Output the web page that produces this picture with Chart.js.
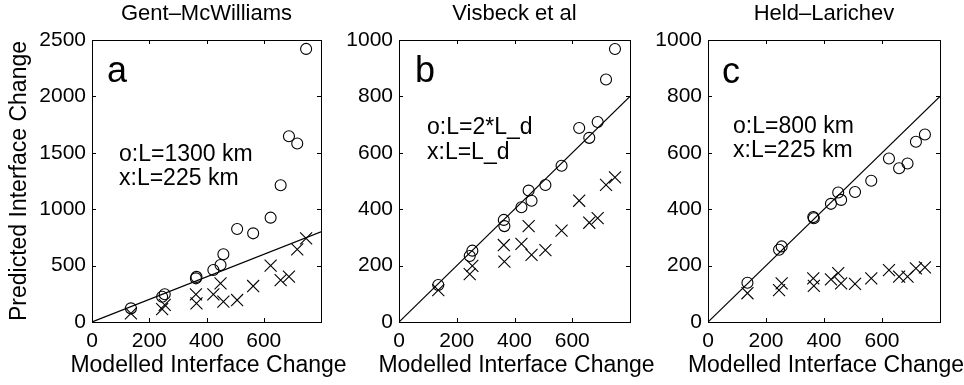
<!DOCTYPE html>
<html><head><meta charset="utf-8">
<script src="https://cdn.jsdelivr.net/npm/chart.js@4.4.1/dist/chart.umd.min.js"></script>
<style>
html,body{margin:0;padding:0;background:#fff;overflow:hidden;width:964px;height:385px}
.p{position:absolute;top:0;height:385px}
</style></head><body>
<div class="p" style="left:0;width:362px"><canvas id="c0"></canvas></div>
<div class="p" style="left:335px;width:327px"><canvas id="c1"></canvas></div>
<div class="p" style="left:640px;width:324px"><canvas id="c2"></canvas></div>
<script>
// ---- data ----
const modelled = [136, 245, 254, 363, 365, 424, 449, 459, 507, 563, 624, 659, 688, 717, 748];
const gmCircles = [121, 224, 246, 387, 400, 461, 505, 600, 824, 786, 925, 1212, 1647, 1582, 2421];
const gmCrosses = [77, 115, 151, 245, 166, 245, 343, 180, 195, 319, 499, 372, 402, 644, 742];
const vbCircles = [131, 234, 253, 362, 340, 407, 466, 430, 486, 554, 688, 653, 709, 860, 968];
const vbCrosses = [113, 170, 199, 273, 214, 277, 340, 238, 255, 324, 430, 352, 368, 486, 513];
const hlCircles = [139, 256, 268, 372, 368, 419, 459, 433, 461, 501, 580, 545, 562, 639, 665];
const hlCrosses = [102, 113, 137, 155, 128, 151, 173, 137, 135, 155, 184, 161, 161, 190, 194];
const oneToOne = [0, 800];
const xTicks = [0, 200, 400, 600, 800];
const xTickLabels = ['0', '200', '400', '600', ''];
const panelTitles = ['Gent\u2013McWilliams', 'Visbeck et al', 'Held\u2013Larichev'];
const panelLetters = ['a', 'b', 'c'];
const legendLines = [['o:L=1300 km', 'x:L=225 km'], ['o:L=2*L_d', 'x:L=L_d'], ['o:L=800 km', 'x:L=225 km']];
const yMax = [2500, 1000, 1000];
const yStep = [500, 200, 200];
const xTitle = 'Modelled Interface Change';
const yTitle = 'Predicted Interface Change';

// ---- layout (pixels) ----
const FONT = "'Liberation Sans', Arial, Helvetica, sans-serif";
const layoutCfg = [
  {yWidth: 92, padRight: 41, letter: [15, 42], text: [27, 121], step: 24},
  {yWidth: 64, padRight: 32, letter: [16, 42], text: [28, 94], step: 25},
  {yWidth: 68, padRight: 24, letter: [14, 43], text: [25, 93], step: 24}
];

const toPts = (ys) => ys.map((y, i) => ({x: modelled[i], y}));
const series = [[gmCircles, gmCrosses], [vbCircles, vbCrosses], [hlCircles, hlCrosses]];

const framePlugin = {
  id: 'frame',
  afterDatasetsDraw(chart) {
    const {ctx, chartArea: a, scales} = chart;
    ctx.save();
    ctx.strokeStyle = '#000';
    ctx.lineWidth = 1;
    ctx.strokeRect(Math.round(a.left) + 0.5, Math.round(a.top) + 0.5, Math.round(a.right - a.left), Math.round(a.bottom - a.top));
    const tl = 4;
    ctx.beginPath();
    xTicks.forEach(v => {
      const px = Math.round(scales.x.getPixelForValue(v)) + 0.5;
      ctx.moveTo(px, a.bottom); ctx.lineTo(px, a.bottom - tl);
      ctx.moveTo(px, a.top); ctx.lineTo(px, a.top + tl);
    });
    scales.y.ticks.forEach(t => {
      const py = Math.round(scales.y.getPixelForValue(t.value)) + 0.5;
      ctx.moveTo(a.left, py); ctx.lineTo(a.left + tl, py);
      ctx.moveTo(a.right, py); ctx.lineTo(a.right - tl, py);
    });
    ctx.stroke();
    ctx.restore();
  },
  afterDraw(chart) {
    const o = chart.options.plugins.frame;
    const {ctx, chartArea: a} = chart;
    ctx.save();
    ctx.fillStyle = '#000';
    ctx.textAlign = 'left';
    ctx.textBaseline = 'alphabetic';
    ctx.font = '36px ' + FONT;
    ctx.fillText(o.letter, a.left + o.letterPos[0], a.top + o.letterPos[1]);
    ctx.font = '23px ' + FONT;
    o.lines.forEach((s, i) => ctx.fillText(s, a.left + o.textPos[0], a.top + o.textPos[1] + i * o.step));
    // x-axis title (drawn without width squeezing)
    ctx.textAlign = 'center';
    ctx.textBaseline = 'middle';
    ctx.font = '23px ' + FONT;
    ctx.fillText(o.xTitle, (a.left + a.right) / 2 + 2, a.bottom + 44);
    ctx.restore();
  }
};

[0, 1, 2].forEach(k => {
  const L = layoutCfg[k];
  new Chart(document.getElementById('c' + k), {
    type: 'scatter',
    data: {
      datasets: [
        {type: 'line', data: oneToOne.map(v => ({x: v, y: v})), borderColor: '#000', borderWidth: 1.2, pointRadius: 0, fill: false},
        {data: toPts(series[k][0]), pointStyle: 'circle', pointRadius: 5.5, borderColor: '#000', backgroundColor: 'rgba(0,0,0,0)', borderWidth: 1.1},
        {data: toPts(series[k][1]), pointStyle: 'crossRot', pointRadius: 8.5, borderColor: '#000', backgroundColor: 'rgba(0,0,0,0)', borderWidth: 1.1}
      ]
    },
    options: {
      responsive: true, maintainAspectRatio: false, animation: false, devicePixelRatio: 1,
      layout: {padding: {left: 0, right: L.padRight, top: 0, bottom: 0}},
      plugins: {
        legend: {display: false}, tooltip: {enabled: false},
        frame: {letter: panelLetters[k], letterPos: L.letter, lines: legendLines[k], textPos: L.text, step: L.step, xTitle: xTitle}
      },
      scales: {
        x: {
          type: 'linear', position: 'bottom', min: 0, max: 800,
          afterBuildTicks: s => { s.ticks = xTicks.map(v => ({value: v})); },
          ticks: {callback: (v) => xTickLabels[xTicks.indexOf(v)], font: {family: FONT, size: 21}, color: '#000', padding: 7, maxRotation: 0, autoSkip: false},
          grid: {display: false, drawTicks: false}, border: {display: false},
          title: {display: false},
          afterFit: s => { s.height = 63; }
        },
        xt: {
          type: 'linear', position: 'top', min: 0, max: 800,
          ticks: {display: false}, grid: {display: false, drawTicks: false}, border: {display: false},
          title: {display: true, text: panelTitles[k], font: {family: FONT, size: 22}, color: '#000', padding: {top: 1, bottom: 0}},
          afterFit: s => { s.height = 40; }
        },
        y: {
          type: 'linear', position: 'left', min: 0, max: yMax[k],
          ticks: {stepSize: yStep[k], callback: v => String(v), font: {family: FONT, size: 21}, color: '#000', padding: 6},
          grid: {display: false, drawTicks: false}, border: {display: false},
          title: {display: k === 0, text: yTitle, font: {family: FONT, size: 23}, color: '#000', padding: {top: 6, bottom: 0}},
          afterFit: s => { s.width = L.yWidth; }
        }
      }
    },
    plugins: [framePlugin]
  });
});
</script>
</body></html>
